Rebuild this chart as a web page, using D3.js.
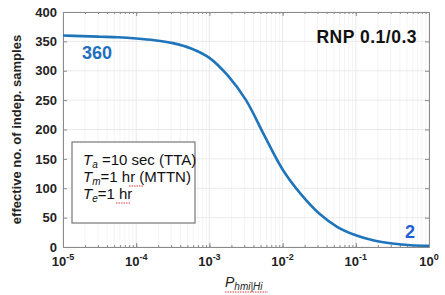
<!DOCTYPE html>
<html>
<head>
<meta charset="utf-8">
<script src="https://cdn.jsdelivr.net/npm/d3@7"></script>
<style>
  body { margin: 0; background: #fff; }
  text { font-family: "Liberation Sans", Arial, sans-serif; }
</style>
</head>
<body>
<div id="chart"></div>
<script>
// values, every quarter decade of P
var logP = [-5, -4.75, -4.5, -4.25, -4, -3.75, -3.5, -3.25, -3, -2.75, -2.5,
            -2.25, -2, -1.75, -1.5, -1.25, -1, -0.75, -0.5, -0.25, 0];
var nSamples = [360, 359, 358, 357, 355, 352, 347, 338, 322, 292, 250,
                190, 132, 90, 57, 34, 20, 11, 6, 3, 2];
var yTicks = [0, 50, 100, 150, 200, 250, 300, 350, 400];
var xDecades = [-5, -4, -3, -2, -1, 0];
var legendLines = [
    {sym: "T", sub: "a", rest: " =10 sec (TTA)"},
    {sym: "T", sub: "m", rest: "=1 hr (MTTN)"},
    {sym: "T", sub: "e", rest: "=1 hr"}
];

const width = 445, height = 295;
const margin = {left: 63, right: 16, top: 12, bottom: 48};
const innerWidth = width - margin.left - margin.right;
const innerHeight = height - margin.top - margin.bottom;

const svg = d3.select('#chart')
                .append("svg")
                .attr('width', width)
                .attr('height', height);

const g = svg.append('g')
            .attr('transform', `translate(${margin.left},${margin.top})`);

const xScale = d3.scaleLog()
                .domain([1e-5, 1])
                .range([0, innerWidth]);

const yScale = d3.scaleLinear()
                .domain([0, 400])
                .range([innerHeight, 0]);

var minorTicks = xScale.ticks();
var majorTicks = xDecades.map(e => Math.pow(10, e));

// grid
g.selectAll(".xgrid")
    .data(minorTicks)
    .enter()
    .append("line")
    .attr("x1", d => xScale(d)).attr("x2", d => xScale(d))
    .attr("y1", 0).attr("y2", innerHeight)
    .attr("stroke", d => majorTicks.includes(d) ? "#e2e2e2" : "#f1f1f1")
    .attr("stroke-width", 0.8);
g.selectAll(".ygrid")
    .data(yTicks)
    .enter()
    .append("line")
    .attr("x1", 0).attr("x2", innerWidth)
    .attr("y1", d => yScale(d)).attr("y2", d => yScale(d))
    .attr("stroke", "#e6e6e6")
    .attr("stroke-width", 0.8);

// axes with inward ticks
const axisColor = "#8a8a8a";
const xMinor = d3.axisBottom(xScale).tickValues(minorTicks).tickSizeInner(-2).tickSizeOuter(0).tickFormat("");
const xMajor = d3.axisBottom(xScale).tickValues(majorTicks).tickSizeInner(-4).tickSizeOuter(0).tickFormat("");
const xMinorTop = d3.axisTop(xScale).tickValues(minorTicks).tickSizeInner(-2).tickSizeOuter(0).tickFormat("");
const xMajorTop = d3.axisTop(xScale).tickValues(majorTicks).tickSizeInner(-4).tickSizeOuter(0).tickFormat("");
const yAxis = d3.axisLeft(yScale).tickValues(yTicks).tickSizeInner(-4).tickSizeOuter(0).tickPadding(6);
const yRight = d3.axisRight(yScale).tickValues(yTicks).tickSizeInner(-4).tickSizeOuter(0).tickFormat("");

g.append('g').attr('transform', `translate(0,${innerHeight})`).call(xMinor);
g.append('g').attr('transform', `translate(0,${innerHeight})`).call(xMajor);
g.append('g').call(xMinorTop);
g.append('g').call(xMajorTop);
const yG = g.append('g').call(yAxis);
g.append('g').attr('transform', `translate(${innerWidth},0)`).call(yRight);

// drop the empty labels of the tick-only axes
g.selectAll(".tick text").filter(function() { return this.textContent === ""; }).remove();

g.selectAll(".domain").attr("stroke", axisColor);
g.selectAll(".tick line").attr("stroke", axisColor);
yG.selectAll("text")
    .attr("font-size", 13)
    .attr("font-weight", "bold")
    .attr("fill", "#222");

// x tick labels 10^n
var xl = g.selectAll(".xlab")
    .data(xDecades)
    .enter()
    .append("text")
    .attr("x", d => xScale(Math.pow(10, d)))
    .attr("y", innerHeight + 19)
    .attr("text-anchor", "middle")
    .attr("font-weight", "bold")
    .attr("fill", "#222");
xl.append("tspan").attr("font-size", 13).text("10");
xl.append("tspan").attr("font-size", 9).attr("dy", -6).text(d => d);

// curve
const line = d3.line()
            .x((d, i) => xScale(Math.pow(10, logP[i])))
            .y(d => yScale(d))
            .curve(d3.curveCatmullRom.alpha(0.5));

g.append("path")
    .datum(nSamples)
    .attr("d", line)
    .attr("fill", "none")
    .attr("stroke", "#1f74ba")
    .attr("stroke-width", 2.6);

// annotations
g.append("text")
    .attr("x", xScale(1e-5) + 19)
    .attr("y", yScale(nSamples[0]) + 23)
    .attr("font-size", 18)
    .attr("font-weight", "bold")
    .attr("fill", "#1f6fc0")
    .text(nSamples[0]);
g.append("text")
    .attr("x", xScale(1) - 24)
    .attr("y", yScale(nSamples[nSamples.length - 1]) - 8)
    .attr("font-size", 18)
    .attr("font-weight", "bold")
    .attr("fill", "#1f5fd6")
    .text(nSamples[nSamples.length - 1]);

g.append("text")
    .attr("x", innerWidth - 12)
    .attr("y", 31)
    .attr("text-anchor", "end")
    .attr("font-family", "DejaVu Sans")
    .attr("font-size", 17.5)
    .attr("letter-spacing", 0.5)
    .attr("font-weight", "bold")
    .attr("fill", "#111")
    .text("RNP 0.1/0.3");

// legend box
const box = g.append("g").attr("transform", "translate(9,130)");
box.append("rect")
    .attr("width", 123).attr("height", 81)
    .attr("fill", "#fff")
    .attr("stroke", "#777")
    .attr("stroke-width", 1.2);
legendLines.forEach((d, i) => {
    var t = box.append("text")
        .attr("x", 11)
        .attr("y", 23 + i * 17)
        .attr("font-size", 15)
        .attr("fill", "#111");
    t.append("tspan").attr("font-style", "italic").text(d.sym);
    t.append("tspan").attr("font-style", "italic").attr("font-size", 10).attr("dy", 3).text(d.sub);
    t.append("tspan").attr("dy", -3).text(d.rest);
});
// spell-check squiggles under "hr"
[[57, 41], [44, 58]].forEach(p => {
    box.append("line")
        .attr("x1", p[0]).attr("x2", p[0] + 14)
        .attr("y1", p[1] + 3).attr("y2", p[1] + 3)
        .attr("stroke", "#e03a3a")
        .attr("stroke-width", 1)
        .attr("stroke-dasharray", "1.5,1");
});

// axis labels
svg.append("text")
    .attr("transform", `translate(21,${margin.top + innerHeight / 2}) rotate(-90)`)
    .attr("text-anchor", "middle")
    .attr("font-size", 13)
    .attr("font-weight", "bold")
    .attr("fill", "#222")
    .text("effective no. of indep. samples");

var xt = svg.append("text")
    .attr("x", 225)
    .attr("y", 287)
    .attr("font-style", "italic")
    .attr("fill", "#222");
xt.append("tspan").attr("font-size", 14).text("P");
xt.append("tspan").attr("font-size", 10).attr("dy", 3).text("hmi|Hi");
svg.append("line")
    .attr("x1", 225).attr("x2", 268)
    .attr("y1", 292).attr("y2", 292)
    .attr("stroke", "#e03a3a")
    .attr("stroke-width", 1)
    .attr("stroke-dasharray", "1.5,1");
</script>
</body>
</html>
